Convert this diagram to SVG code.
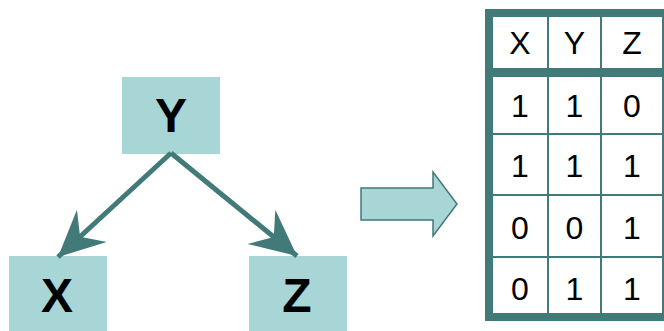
<svg xmlns="http://www.w3.org/2000/svg" width="664" height="331" viewBox="0 0 664 331">
  <style>
    .node { fill: #A8D5D6; }
    .nlabel { font-family: "Liberation Sans", Arial, sans-serif; font-weight: bold; font-size: 48px; text-anchor: middle; fill: #000; }
    .edge { stroke: #417A78; stroke-width: 5; fill: none; }
    .cell { font-family: "Liberation Sans", Arial, sans-serif; font-size: 32px; text-anchor: middle; fill: #000; }
    .grid { stroke: #417A78; stroke-width: 2; }
  </style>
  <defs>
    <!-- notched arrowhead, tip at the line end -->
    <marker id="head" markerUnits="userSpaceOnUse" markerWidth="60" markerHeight="60" refX="0" refY="0" viewBox="-50 -25 60 50" orient="auto">
      <path d="M0,0 L-46,-22 L-30,0 L-46,22 Z" fill="#417A78"/>
    </marker>
  </defs>

  <rect width="664" height="331" fill="#fff"/>

  <g id="node-Y">
    <rect class="node" x="122" y="77" width="98" height="77"/>
    <text class="nlabel" x="171" y="132">Y</text>
  </g>
  <g id="node-X">
    <rect class="node" x="9" y="256" width="98" height="75"/>
    <text class="nlabel" x="57" y="312">X</text>
  </g>
  <g id="node-Z">
    <rect class="node" x="249" y="256" width="98" height="75"/>
    <text class="nlabel" x="297" y="312">Z</text>
  </g>

  <g id="connectors">
    <line class="edge" x1="171" y1="153" x2="58" y2="257" marker-end="url(#head)"/>
    <line class="edge" x1="171" y1="153" x2="297" y2="256" marker-end="url(#head)"/>
  </g>

  <g id="transform-arrow">
    <polygon points="361,188 433,188 433,172 457,204 433,236 433,220 361,220" fill="#A8D5D6" stroke="#417A78" stroke-width="1.5"/>
  </g>

  <g id="table">
    <rect x="489" y="13" width="177" height="304" fill="#fff" stroke="#417A78" stroke-width="8"/>
    <line x1="489" y1="72.5" x2="664" y2="72.5" stroke="#417A78" stroke-width="9"/>
    <line class="grid" x1="548" y1="17" x2="548" y2="313"/>
    <line class="grid" x1="601" y1="17" x2="601" y2="313"/>
    <line class="grid" x1="493" y1="134" x2="664" y2="134"/>
    <line class="grid" x1="493" y1="195" x2="664" y2="195"/>
    <line class="grid" x1="493" y1="257" x2="664" y2="257"/>

    <text class="cell" x="520" y="54">X</text>
    <text class="cell" x="574.5" y="54">Y</text>
    <text class="cell" x="632" y="54">Z</text>

    <text class="cell" x="520" y="117">1</text>
    <text class="cell" x="574.5" y="117">1</text>
    <text class="cell" x="632" y="117">0</text>

    <text class="cell" x="520" y="177">1</text>
    <text class="cell" x="574.5" y="177">1</text>
    <text class="cell" x="632" y="177">1</text>

    <text class="cell" x="520" y="239">0</text>
    <text class="cell" x="574.5" y="239">0</text>
    <text class="cell" x="632" y="239">1</text>

    <text class="cell" x="520" y="300">0</text>
    <text class="cell" x="574.5" y="300">1</text>
    <text class="cell" x="632" y="300">1</text>
  </g>
</svg>
